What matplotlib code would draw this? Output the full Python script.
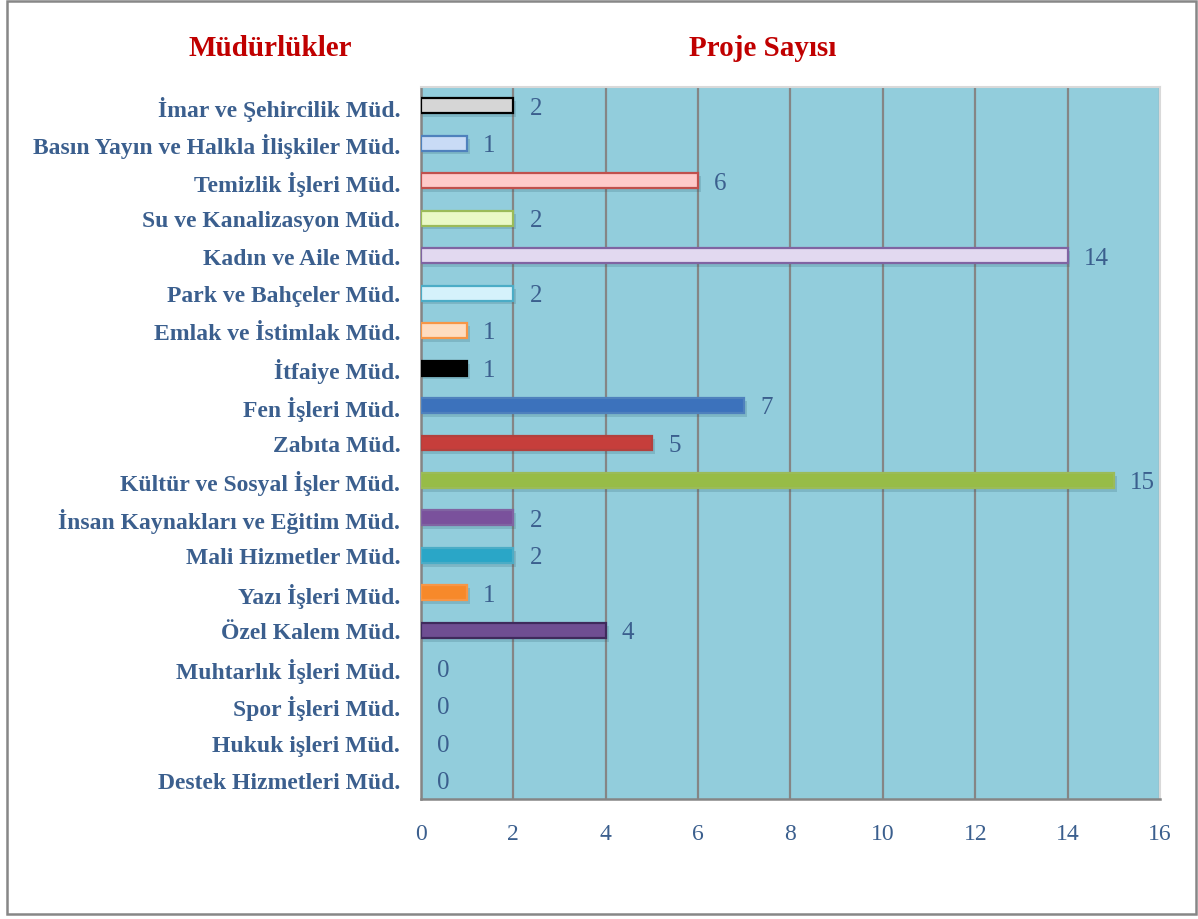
import matplotlib
matplotlib.use("Agg")
import matplotlib.pyplot as plt
from matplotlib.patches import Rectangle

# data, top to bottom as in the chart
birimler = [
    "İmar ve Şehircilik Müd.",
    "Basın Yayın ve Halkla İlişkiler Müd.",
    "Temizlik İşleri Müd.",
    "Su ve Kanalizasyon Müd.",
    "Kadın ve Aile Müd.",
    "Park ve Bahçeler Müd.",
    "Emlak ve İstimlak Müd.",
    "İtfaiye Müd.",
    "Fen İşleri Müd.",
    "Zabıta Müd.",
    "Kültür ve Sosyal İşler Müd.",
    "İnsan Kaynakları ve Eğitim Müd.",
    "Mali Hizmetler Müd.",
    "Yazı İşleri Müd.",
    "Özel Kalem Müd.",
    "Muhtarlık İşleri Müd.",
    "Spor İşleri Müd.",
    "Hukuk işleri Müd.",
    "Destek Hizmetleri Müd.",
]
proje_sayisi = [2, 1, 6, 2, 14, 2, 1, 1, 7, 5, 15, 2, 2, 1, 4, 0, 0, 0, 0]
x_ticks = [0, 2, 4, 6, 8, 10, 12, 14, 16]

face_colors = ["#D6D6D6", "#C9DBF6", "#FFCACA", "#EAF9C6", "#E2D9F0", "#D5F2FB",
               "#FFDDC0", "#000000", "#3C72BC", "#C63E3B", "#97BC47", "#7A519C",
               "#2AA6C7", "#F7892A", "#6F4E92", "#92CDDC", "#92CDDC", "#92CDDC",
               "#92CDDC"]
edge_colors = ["#000000", "#4F81BD", "#C0504D", "#9BBB59", "#8064A2", "#4BACC6",
               "#F79646", "#000000", "#4F81BD", "#B3403D", "#9BBB59", "#8064A2",
               "#4BACC6", "#F79646", "#3F2A5C", "#92CDDC", "#92CDDC", "#92CDDC",
               "#92CDDC"]

BLUE = "#3B5F8E"
RED = "#C00000"
SERIF = ["Liberation Serif", "DejaVu Serif"]

fig = plt.figure(figsize=(11.98, 9.2), dpi=100)
ax = fig.add_axes([421 / 1198, 120 / 920, 739 / 1198, 712 / 920])
ax.set_facecolor("#92CDDC")

y = list(range(len(birimler)))
lws = [1.6 if v > 0 else 0 for v in proje_sayisi]

# soft drop shadow under each bar
ax.barh([yi + 0.09 for yi in y], [v + 0.06 if v > 0 else 0 for v in proje_sayisi],
        height=0.42, color="#1F4E60", alpha=0.18, linewidth=0, zorder=2)
ax.barh(y, proje_sayisi, height=0.4, color=face_colors, edgecolor=edge_colors,
        linewidth=lws, zorder=3)

for yi, v in zip(y, proje_sayisi):
    ax.text(v + 0.35, yi + 0.05, str(v), va="center", ha="left", fontsize=18,
            color=BLUE, family=SERIF, zorder=4)

ax.set_xlim(0, 16)
ax.set_ylim(len(birimler) - 0.5, -0.5)
ax.set_xticks(x_ticks)
ax.set_yticks(y)
ax.set_yticklabels(birimler)
ax.grid(axis="x", color="#858585", lw=1.6, zorder=1)
ax.tick_params(length=0)
ax.tick_params(axis="y", pad=15)
ax.tick_params(axis="x", pad=17)
for lbl in ax.get_yticklabels():
    lbl.set_fontfamily(SERIF)
    lbl.set_fontweight("bold")
    lbl.set_fontsize(17)
    lbl.set_color(BLUE)
for lbl in ax.get_xticklabels():
    lbl.set_fontfamily(SERIF)
    lbl.set_fontsize(17)
    lbl.set_color(BLUE)

for side in ("left", "bottom"):
    ax.spines[side].set_color("#858585")
    ax.spines[side].set_linewidth(1.8)
for side in ("top", "right"):
    ax.spines[side].set_color("#D9D9D9")
    ax.spines[side].set_linewidth(1.5)

fig.text(270 / 1198, 1 - 48 / 920, "Müdürlükler", ha="center", va="center",
         fontsize=21, fontweight="bold", color=RED, family=SERIF)
fig.text(763 / 1198, 1 - 48 / 920, "Proje Sayısı", ha="center", va="center",
         fontsize=21, fontweight="bold", color=RED, family=SERIF)

# outer frame of the chart
fig.patches.append(Rectangle((7 / 1198, 5 / 920), 1189 / 1198, 913 / 920,
                             transform=fig.transFigure, fill=False,
                             edgecolor="#878787", lw=1.8))

fig.savefig("out.png", dpi=100)
